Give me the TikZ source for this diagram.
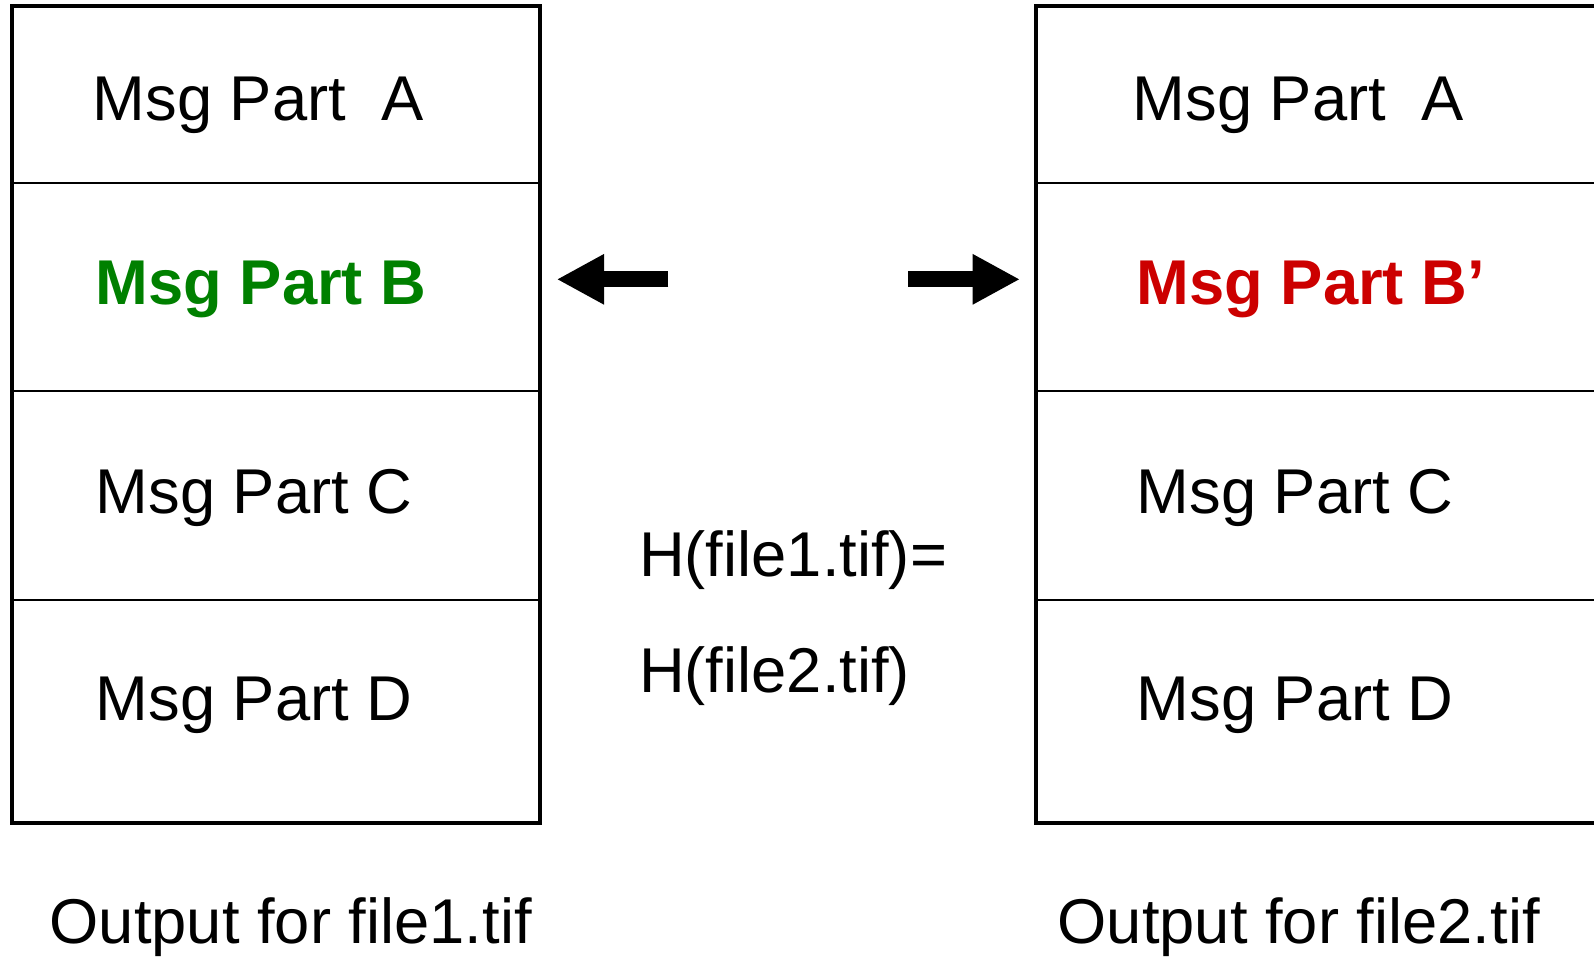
\documentclass[tikz,border=0pt]{standalone}
\usepackage{fontspec}
\setmainfont{Liberation Sans}
\usepackage{tikz}
\usetikzlibrary{arrows.meta}
\definecolor{partgreen}{RGB}{0,128,0}
\definecolor{partred}{RGB}{204,0,0}
\tikzstyle{frame}=[
        draw=black,
        line width=0.04cm
]
\tikzstyle{divider}=[
        draw=black,
        line width=0.02cm
]
\tikzstyle{label}=[
        anchor=base west,
        inner sep=0pt,
        font=\fontsize{18}{21.6}\selectfont
]
\tikzstyle{blockarrow}=[
        line width=0.16cm,
        -{Triangle[length=0.473cm,width=0.47cm]}
]

\begin{document}
\begin{tikzpicture}[x=0.01cm,y=-0.01cm]
                    \useasboundingbox (0,0) rectangle (1594,956);
                    \clip (0,0) rectangle (1594,956);

                    % left box
                    \draw[frame] (12,6.3) rectangle (540,823.3);
                    \foreach \y in {183.3,391,599.7} {
                        \draw[divider] (12,\y) -- (540,\y);
                    }

                    % right box, cut off at the page edge
                    \draw[frame] (1600,6.3) -- (1036,6.3) -- (1036,823.3) -- (1600,823.3);
                    \foreach \y in {183.3,391,599.7} {
                        \draw[divider] (1036,\y) -- (1600,\y);
                    }

                    \node[label] (la) at (92,120) {Msg Part\ \ A};
                    \node[label,font=\fontsize{18}{21.6}\selectfont\bfseries,text=partgreen] (lb) at (95,304) {Msg Part B};
                    \node[label] (lc) at (95,513) {Msg Part C};
                    \node[label] (ld) at (95,720) {Msg Part D};

                    \node[label] (ra) at (1132,120) {Msg Part\ \ A};
                    \node[label,font=\fontsize{18}{21.6}\selectfont\bfseries,text=partred] (rb) at (1136,304) {Msg Part B’};
                    \node[label] (rc) at (1136,513) {Msg Part C};
                    \node[label] (rd) at (1136,720) {Msg Part D};

                    \node[label] (hash1) at (638.5,576) {H(file1.tif)=};
                    \node[label] (hash2) at (638.5,692) {H(file2.tif)};

                    \node[label] (out1) at (49,943) {Output for file1.tif};
                    \node[label] (out2) at (1057,943) {Output for file2.tif};

                    % arrows
                    \coordinate (lstart) at (668.3,279.3);
                    \coordinate (ltip) at (556.7,279.3);
                    \coordinate (rstart) at (908.3,279.3);
                    \coordinate (rtip) at (1020,279.3);
                    \draw[blockarrow] (lstart) -- (ltip);
                    \draw[blockarrow] (rstart) -- (rtip);
                \end{tikzpicture}
\end{document}
